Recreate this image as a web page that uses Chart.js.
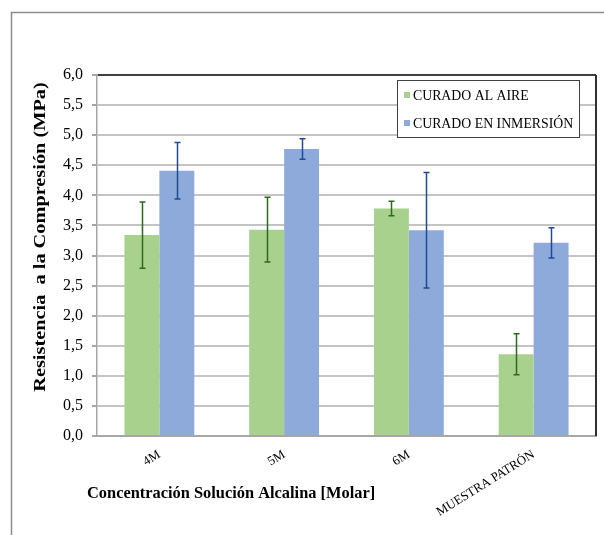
<!DOCTYPE html>
<html>
<head>
<meta charset="utf-8">
<script src="https://cdn.jsdelivr.net/npm/chart.js@4.4.1/dist/chart.umd.min.js"></script>
<style>
  html, body { margin: 0; padding: 0; background: #fff; }
  #wrap { width: 604px; height: 535px; }
</style>
</head>
<body>
<div id="wrap"><canvas id="chart" width="604" height="535"></canvas></div>
<script>
// --- data ---
const categories = ['4M', '5M', '6M', 'MUESTRA PATRÓN'];
const aireValues = [3.34, 3.43, 3.78, 1.36];
const aireErrors = [0.55, 0.54, 0.12, 0.34];
const inmersionValues = [4.41, 4.77, 3.42, 3.21];
const inmersionErrors = [0.47, 0.17, 0.96, 0.25];
const seriesLabels = ['CURADO AL AIRE', 'CURADO EN INMERSIÓN'];
const yTitle = 'Resistencia  a la Compresión (MPa)';
const xTitle = 'Concentración Solución Alcalina [Molar]';

const SERIF = '"Liberation Serif", "DejaVu Serif", serif';

// error bars drawn from the y scale
const errorBars = {
    id: 'errorBars',
    afterDatasetsDraw(chart) {
        const ctx = chart.ctx;
        const y = chart.scales.y;
        chart.data.datasets.forEach((ds, i) => {
            const meta = chart.getDatasetMeta(i);
            meta.data.forEach((bar, j) => {
                const v = ds.data[j], e = ds.errors[j];
                const top = y.getPixelForValue(v + e);
                const bot = y.getPixelForValue(v - e);
                const x = Math.round(bar.x) + 0.5;
                ctx.save();
                ctx.strokeStyle = ds.errorColor;
                ctx.lineWidth = 1.5;
                ctx.beginPath();
                ctx.moveTo(x, top); ctx.lineTo(x, bot);
                ctx.moveTo(x - 3, top); ctx.lineTo(x + 3, top);
                ctx.moveTo(x - 3, bot); ctx.lineTo(x + 3, bot);
                ctx.stroke();
                ctx.restore();
            });
        });
    }
};

// outer frame, plot border, titles and the boxed legend
const decorations = {
    id: 'decorations',
    beforeDraw(chart) {
        const ctx = chart.ctx;
        ctx.save();
        ctx.fillStyle = '#fff';
        ctx.fillRect(0, 0, chart.width, chart.height);
        ctx.strokeStyle = '#8c8c8c';
        ctx.lineWidth = 1.5;
        ctx.beginPath();
        ctx.moveTo(11.5, chart.height);
        ctx.lineTo(11.5, 12.5);
        ctx.lineTo(chart.width, 12.5);
        ctx.stroke();
        ctx.restore();
    },
    afterDraw(chart) {
        const ctx = chart.ctx;
        const a = chart.chartArea;
        ctx.save();
        // dark right edge of plot area
        ctx.strokeStyle = '#303030';
        ctx.lineWidth = 2;
        ctx.beginPath();
        ctx.moveTo(a.right, a.top);
        ctx.lineTo(a.right, a.bottom);
        ctx.stroke();

        // axis titles (the source image is a bit stretched, so is the y title)
        ctx.fillStyle = '#000';
        ctx.font = 'bold 16px ' + SERIF;
        ctx.textAlign = 'center';
        ctx.textBaseline = 'middle';
        ctx.save();
        ctx.translate(41, 237);
        ctx.rotate(-Math.PI / 2);
        ctx.scale(1.27, 1);
        ctx.fillText(yTitle, 0, 0);
        ctx.restore();
        ctx.font = 'bold 16.4px ' + SERIF;
        ctx.textAlign = 'left';
        ctx.fillText(xTitle, 87, 494);

        // legend box
        const lx = 397, ly = 80, lw = 182, lh = 57;
        ctx.fillStyle = '#fff';
        ctx.fillRect(lx, ly, lw, lh);
        ctx.strokeStyle = '#404040';
        ctx.lineWidth = 1;
        ctx.strokeRect(lx + 0.5, ly + 0.5, lw, lh);
        ctx.font = '13.8px ' + SERIF;
        ctx.textAlign = 'left';
        ctx.textBaseline = 'middle';
        chart.data.datasets.forEach((ds, i) => {
            const cy = ly + 15 + i * 28;
            ctx.fillStyle = ds.backgroundColor;
            ctx.fillRect(lx + 7, cy - 3, 6, 6);
            ctx.fillStyle = '#000';
            ctx.fillText(ds.label, lx + 16, cy + 1);
        });
        ctx.restore();
    }
};

new Chart(document.getElementById('chart'), {
    type: 'bar',
    data: {
        labels: categories,
        datasets: [
            {
                label: seriesLabels[0],
                data: aireValues,
                errors: aireErrors,
                errorColor: '#2f6a1c',
                backgroundColor: '#a9d18e',
                categoryPercentage: 0.56,
                barPercentage: 1.0
            },
            {
                label: seriesLabels[1],
                data: inmersionValues,
                errors: inmersionErrors,
                errorColor: '#1f4a94',
                backgroundColor: '#8eaadb',
                categoryPercentage: 0.56,
                barPercentage: 1.0
            }
        ]
    },
    options: {
        responsive: false,
        animation: false,
        layout: { padding: { top: 75, right: 8, left: 0, bottom: 0 } },
        plugins: {
            legend: { display: false },
            tooltip: { enabled: false }
        },
        scales: {
            x: {
                grid: { display: false },
                border: { display: true, color: '#a6a6a6', width: 2 },
                ticks: {
                    color: '#000',
                    font: { family: SERIF, size: 12.8 },
                    minRotation: 32,
                    maxRotation: 32,
                    padding: 3
                },
                afterFit(scale) { scale.height = 99; }
            },
            y: {
                min: 0,
                max: 6,
                grid: {
                    color: c => (c.tick && c.tick.value === 6) ? '#404040' : '#c4c4c4',
                    lineWidth: 2,
                    tickLength: 5,
                    tickColor: '#a6a6a6'
                },
                border: { display: true, color: '#a6a6a6', width: 1.5 },
                ticks: {
                    stepSize: 0.5,
                    color: '#000',
                    padding: 9,
                    font: { family: SERIF, size: 16 },
                    callback: v => v.toFixed(1).replace('.', ',')
                },
                afterFit(scale) { scale.width = 97; }
            }
        }
    },
    plugins: [errorBars, decorations]
});
</script>
</body>
</html>
